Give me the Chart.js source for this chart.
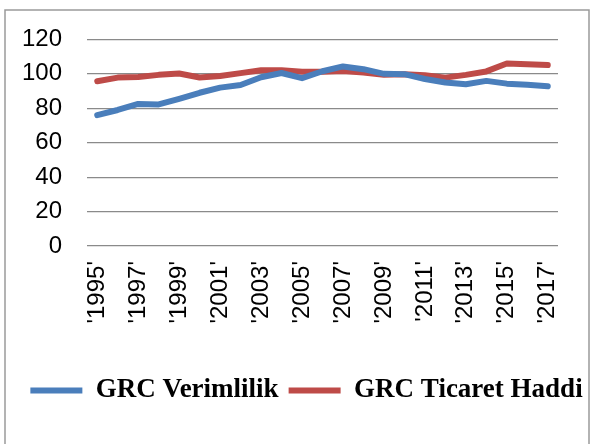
<!DOCTYPE html>
<html>
<head>
    <title>GRC Verimlilik ve Ticaret Haddi</title>
    <script src="https://cdn.jsdelivr.net/npm/chart.js"></script>
    <style>
        body { margin: 0; background: #fff; }
        #wrap { width: 597px; height: 444px; }
    </style>
</head>
<body>
    <div id="wrap"><canvas id="grcChart" width="597" height="444"></canvas></div>

    <script>
        // years 1995..2017, labels written as in the source ('1995')
        const years = ["'1995'", "'1996'", "'1997'", "'1998'", "'1999'", "'2000'", "'2001'", "'2002'",
            "'2003'", "'2004'", "'2005'", "'2006'", "'2007'", "'2008'", "'2009'", "'2010'",
            "'2011'", "'2012'", "'2013'", "'2014'", "'2015'", "'2016'", "'2017'"];

        const verimlilik = [76, 79, 82.5, 82.2, 85.5, 89, 92, 93.5, 98, 100.5, 97.5, 101.5,
            104.3, 102.7, 100, 99.8, 97, 95, 94, 95.9, 94.3, 93.6, 92.8];

        const ticaretHaddi = [95.7, 97.8, 98.2, 99.4, 100.2, 97.9, 98.7, 100.4, 102.1, 102.1, 101.2, 101.2,
            101.7, 100.8, 99.4, 99.8, 99.2, 97.8, 99.4, 101.4, 106, 105.6, 105.1];

        const yTicks = [0, 20, 40, 60, 80, 100, 120];

        // grey frame around the whole chart (open at the bottom, as in the picture)
        const framePlugin = {
            id: 'frame',
            beforeDraw(chart) {
                const ctx = chart.ctx;
                ctx.save();
                ctx.strokeStyle = '#9a9a9a';
                ctx.lineWidth = 1.5;
                ctx.beginPath();
                ctx.moveTo(5, 444);
                ctx.lineTo(5, 10);
                ctx.lineTo(589, 10);
                ctx.lineTo(589, 444);
                ctx.stroke();
                ctx.restore();
            }
        };

        document.addEventListener("DOMContentLoaded", function() {
            new Chart(document.getElementById('grcChart'), {
                type: 'line',
                data: {
                    labels: years,
                    datasets: [{
                        label: 'GRC Verimlilik',
                        data: verimlilik,
                        borderColor: '#4a7ebb',
                        backgroundColor: '#4a7ebb',
                        borderWidth: 6,
                        tension: 0,
                        pointRadius: 0,
                        borderCapStyle: 'round',
                        borderJoinStyle: 'round'
                    }, {
                        label: 'GRC Ticaret Haddi',
                        data: ticaretHaddi,
                        borderColor: '#be4b48',
                        backgroundColor: '#be4b48',
                        borderWidth: 6,
                        tension: 0,
                        pointRadius: 0,
                        borderCapStyle: 'round',
                        borderJoinStyle: 'round'
                    }]
                },
                options: {
                    responsive: false,
                    animation: false,
                    layout: { padding: { top: 27, left: 16, right: 0, bottom: 30 } },
                    plugins: {
                        tooltip: { enabled: false },
                        legend: {
                            position: 'bottom',
                            labels: {
                                boxWidth: 52,
                                boxHeight: 6,
                                padding: 10,
                                color: '#000',
                                font: { family: '"Liberation Serif", "Times New Roman", serif', size: 27, weight: 'bold' },
                                generateLabels(chart) {
                                    const items = Chart.defaults.plugins.legend.labels.generateLabels(chart);
                                    items.forEach(it => { it.lineWidth = 0; });
                                    return items;
                                }
                            }
                        }
                    },
                    scales: {
                        x: {
                            offset: true,
                            grid: { display: false, drawTicks: false },
                            border: { display: false },
                            afterFit(scale) { scale.height = 121; },
                            ticks: {
                                autoSkip: false,
                                minRotation: 90,
                                maxRotation: 90,
                                padding: 15,
                                color: '#000',
                                font: { family: '"Liberation Sans", Arial, sans-serif', size: 24 },
                                callback: function(value, index) {
                                    return index % 2 === 0 ? this.getLabelForValue(value) : '';
                                }
                            }
                        },
                        y: {
                            min: yTicks[0],
                            max: yTicks[yTicks.length - 1],
                            afterBuildTicks(scale) {
                                scale.ticks = yTicks.map(v => ({ value: v }));
                            },
                            afterFit(scale) { scale.width = 71; },
                            grid: { color: '#8a8a8a', lineWidth: 1.2, drawTicks: false },
                            border: { display: false },
                            ticks: {
                                padding: 25,
                                color: '#000',
                                font: { family: '"Liberation Sans", Arial, sans-serif', size: 24 }
                            }
                        },
                        // empty right-hand strip so the plot ends where it does in the picture
                        spacer: {
                            type: 'linear',
                            position: 'right',
                            grid: { display: false, drawTicks: false },
                            border: { display: false },
                            ticks: { display: false },
                            afterFit(scale) { scale.width = 39; }
                        }
                    }
                },
                plugins: [framePlugin]
            });
        });
    </script>
</body>
</html>
